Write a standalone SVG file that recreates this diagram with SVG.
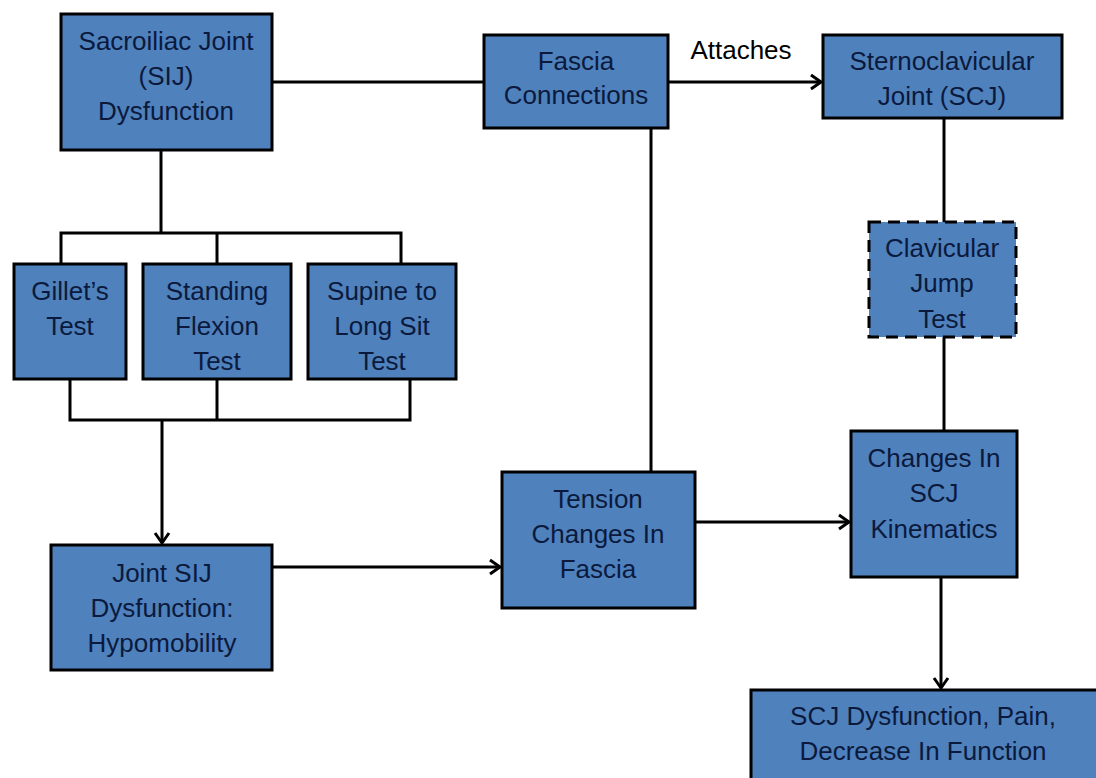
<svg xmlns="http://www.w3.org/2000/svg" width="1096" height="778" viewBox="0 0 1096 778">
<style>
.box{fill:#4f81bd;stroke:#000;stroke-width:3}
.dash{stroke-dasharray:12,7}
.t{font-family:"Liberation Sans",Arial,sans-serif;font-size:26px;fill:#0b1a3c;text-anchor:middle}
.lbl{font-family:"Liberation Sans",Arial,sans-serif;font-size:26px;fill:#000;text-anchor:middle}
.c{fill:none;stroke:#000;stroke-width:3}
</style>
<defs>
<marker id="arr" markerWidth="16" markerHeight="18" refX="12" refY="9" orient="auto" markerUnits="userSpaceOnUse">
<path d="M2,2 L12,9 L2,16" fill="none" stroke="#000" stroke-width="3"/>
</marker>
</defs>
<rect width="1096" height="778" fill="#fff"/>
<g id="connectors">
<line class="c" x1="272" y1="82" x2="484" y2="82"/>
<line class="c" x1="668" y1="82" x2="821" y2="82" marker-end="url(#arr)"/>
<text class="lbl" x="741" y="59">Attaches</text>
<polyline class="c" points="161,150 161,233"/>
<polyline class="c" points="61,264 61,233 401,233 401,264"/>
<line class="c" x1="217" y1="233" x2="217" y2="264"/>
<polyline class="c" points="70,379 70,420 410,420 410,379"/>
<line class="c" x1="217" y1="379" x2="217" y2="420"/>
<line class="c" x1="162" y1="420" x2="162" y2="543" marker-end="url(#arr)"/>
<line class="c" x1="272" y1="567" x2="500" y2="567" marker-end="url(#arr)"/>
<line class="c" x1="651" y1="128" x2="651" y2="472"/>
<line class="c" x1="695" y1="522" x2="849" y2="522" marker-end="url(#arr)"/>
<line class="c" x1="944" y1="118" x2="944" y2="222"/>
<line class="c" x1="944" y1="337" x2="944" y2="431"/>
<line class="c" x1="941" y1="577" x2="941" y2="688" marker-end="url(#arr)"/>
</g>
<g id="sij">
<rect class="box" x="61" y="14" width="211" height="136"/>
<text class="t" x="166" y="50">Sacroiliac Joint</text>
<text class="t" x="166" y="85">(SIJ)</text>
<text class="t" x="166" y="120">Dysfunction</text>
</g>
<g id="fascia">
<rect class="box" x="484" y="35" width="184" height="93"/>
<text class="t" x="576" y="70">Fascia</text>
<text class="t" x="576" y="104">Connections</text>
</g>
<g id="scj">
<rect class="box" x="823" y="35" width="239" height="83"/>
<text class="t" x="942" y="70">Sternoclavicular</text>
<text class="t" x="942" y="105">Joint (SCJ)</text>
</g>
<g id="gillet">
<rect class="box" x="14" y="264" width="112" height="115"/>
<text class="t" x="70" y="300">Gillet’s</text>
<text class="t" x="70" y="335">Test</text>
</g>
<g id="standing">
<rect class="box" x="143" y="264" width="148" height="115"/>
<text class="t" x="217" y="300">Standing</text>
<text class="t" x="217" y="335">Flexion</text>
<text class="t" x="217" y="370">Test</text>
</g>
<g id="supine">
<rect class="box" x="308" y="264" width="148" height="115"/>
<text class="t" x="382" y="300">Supine to</text>
<text class="t" x="382" y="335">Long Sit</text>
<text class="t" x="382" y="370">Test</text>
</g>
<g id="clavicular">
<rect class="box dash" x="869" y="222" width="147" height="115"/>
<text class="t" x="942" y="257">Clavicular</text>
<text class="t" x="942" y="292">Jump</text>
<text class="t" x="942" y="328">Test</text>
</g>
<g id="jointsij">
<rect class="box" x="51" y="545" width="221" height="125"/>
<text class="t" x="162" y="582">Joint SIJ</text>
<text class="t" x="162" y="617">Dysfunction:</text>
<text class="t" x="162" y="652">Hypomobility</text>
</g>
<g id="tension">
<rect class="box" x="502" y="472" width="193" height="136"/>
<text class="t" x="598" y="508">Tension</text>
<text class="t" x="598" y="543">Changes In</text>
<text class="t" x="598" y="578">Fascia</text>
</g>
<g id="changes">
<rect class="box" x="851" y="431" width="166" height="146"/>
<text class="t" x="934" y="467">Changes In</text>
<text class="t" x="934" y="502">SCJ</text>
<text class="t" x="934" y="538">Kinematics</text>
</g>
<g id="scjdys">
<rect class="box" x="751" y="690" width="360" height="100"/>
<text class="t" x="923" y="725">SCJ Dysfunction, Pain,</text>
<text class="t" x="923" y="760">Decrease In Function</text>
</g>
</svg>
